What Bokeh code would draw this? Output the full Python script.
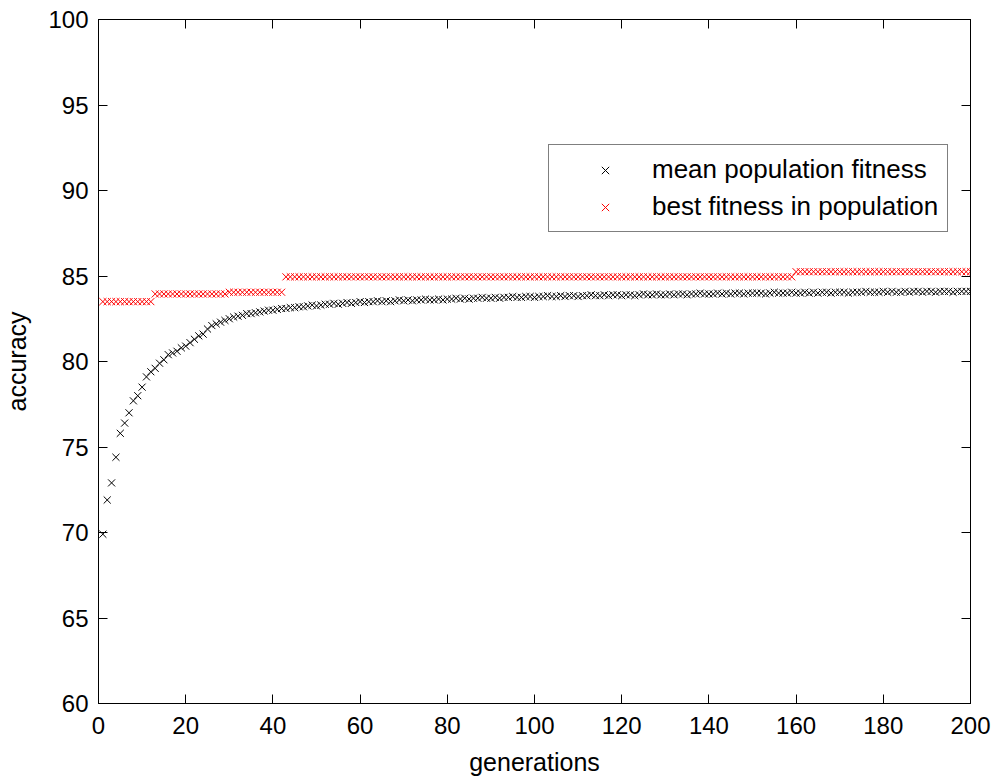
from bokeh.plotting import figure
from bokeh.models import (Range1d, LinearAxis, Legend, LegendItem, FixedTicker,
                          CustomJSTickFormatter)
from bokeh.embed import file_html
from bokeh.resources import INLINE

generations = list(range(1, 201))

mean_fitness = [
    69.9, 71.9, 72.9, 74.4, 75.8, 76.4, 77.0, 77.7, 78.0, 78.5,
    79.1, 79.4, 79.6, 79.9, 80.1, 80.4, 80.5, 80.6, 80.8, 80.9,
    81.1, 81.3, 81.5, 81.6, 81.9, 82.1, 82.2, 82.3, 82.4, 82.5,
    82.6, 82.65, 82.7, 82.8, 82.8, 82.85, 82.9, 82.95, 83.0, 83.0,
    83.05, 83.1, 83.1, 83.15, 83.15, 83.2, 83.2, 83.25, 83.3, 83.25,
    83.3, 83.35, 83.35, 83.4, 83.35, 83.4, 83.45, 83.4, 83.45, 83.5,
    83.45, 83.5, 83.5, 83.55, 83.5, 83.55, 83.5, 83.55, 83.6, 83.55,
    83.6, 83.55, 83.6, 83.6, 83.65, 83.6, 83.6, 83.65, 83.6, 83.65,
    83.65, 83.7, 83.65, 83.7, 83.65, 83.7, 83.7, 83.75, 83.7, 83.7,
    83.75, 83.7, 83.75, 83.75, 83.8, 83.75, 83.75, 83.8, 83.8, 83.75,
    83.8, 83.8, 83.85, 83.8, 83.8, 83.85, 83.8, 83.85, 83.85, 83.8,
    83.85, 83.85, 83.9, 83.85, 83.85, 83.9, 83.85, 83.9, 83.9, 83.85,
    83.9, 83.9, 83.85, 83.9, 83.95, 83.9, 83.9, 83.95, 83.9, 83.9,
    83.95, 83.9, 83.95, 83.95, 83.9, 83.95, 83.95, 84.0, 83.95, 83.95,
    83.95, 84.0, 83.95, 84.0, 83.95, 84.0, 84.0, 83.95, 84.0, 84.0,
    84.0, 84.0, 83.95, 84.0, 84.05, 84.0, 84.0, 84.0, 84.05, 84.0,
    84.0, 84.05, 84.0, 84.05, 84.0, 84.05, 84.05, 84.0, 84.05, 84.05,
    84.05, 84.0, 84.05, 84.05, 84.05, 84.1, 84.05, 84.05, 84.05, 84.1,
    84.05, 84.1, 84.05, 84.05, 84.1, 84.05, 84.1, 84.1, 84.05, 84.1,
    84.1, 84.05, 84.1, 84.1, 84.1, 84.05, 84.1, 84.1, 84.1, 84.1,
]

best_fitness = [83.5] * 12 + [83.95] * 17 + [84.05] * 13 + [84.95] * 117 + [85.25] * 41

x_ticks = [0, 20, 40, 60, 80, 100, 120, 140, 160, 180, 200]
y_ticks = [60, 65, 70, 75, 80, 85, 90, 95, 100]

FONT = "Liberation Sans"

p = figure(width=992, height=778, output_backend="svg", toolbar_location=None,
           x_range=Range1d(0, 200), y_range=Range1d(60, 100),
           min_border_left=98, min_border_right=22, min_border_top=19,
           min_border_bottom=74, background_fill_color="white",
           border_fill_color="white")
p.xgrid.visible = False
p.ygrid.visible = False
p.outline_line_color = "black"
p.outline_line_width = 1

def style_axis(ax, ticks, labels=True):
    ax.ticker = FixedTicker(ticks=ticks)
    ax.axis_line_color = "black"
    ax.axis_line_width = 1
    ax.major_tick_line_color = "black"
    ax.major_tick_in = 9
    ax.major_tick_out = 0
    ax.minor_tick_line_color = None
    ax.major_label_text_font = FONT
    ax.major_label_text_font_size = "24px"
    ax.major_label_text_color = "black"
    ax.axis_label_text_font = FONT
    ax.axis_label_text_font_size = "25px"
    ax.axis_label_text_font_style = "normal"
    ax.axis_label_text_color = "black"
    if not labels:
        ax.formatter = CustomJSTickFormatter(code="return ''")
        ax.major_label_standoff = 0

style_axis(p.xaxis[0], x_ticks)
style_axis(p.yaxis[0], y_ticks)
p.xaxis[0].axis_label = "generations"
p.yaxis[0].axis_label = "accuracy"
p.xaxis[0].major_label_standoff = 13
p.xaxis[0].axis_label_standoff = 11
p.yaxis[0].major_label_standoff = 10
p.yaxis[0].axis_label_standoff = 14

top_axis = LinearAxis()
right_axis = LinearAxis()
style_axis(top_axis, x_ticks, labels=False)
style_axis(right_axis, y_ticks, labels=False)
p.add_layout(top_axis, "above")
p.add_layout(right_axis, "right")

r_mean = p.scatter(generations, mean_fitness, marker="x", size=10,
                   line_color="black", line_width=1)
r_best = p.scatter(generations, best_fitness, marker="x", size=10,
                   line_color="red", line_width=1)

legend = Legend(items=[
    LegendItem(label="mean population fitness", renderers=[r_mean]),
    LegendItem(label="best fitness in population", renderers=[r_best]),
], location=(450, 471))
legend.label_text_font = FONT
legend.label_text_font_size = "26px"
legend.label_text_color = "black"
legend.glyph_width = 94
legend.glyph_height = 26
legend.label_height = 26
legend.label_standoff = 0
legend.padding = 9
legend.spacing = 6
legend.margin = 0
legend.border_line_color = "black"
legend.border_line_width = 1
legend.background_fill_color = "white"
legend.background_fill_alpha = 1
p.add_layout(legend)

open("out.html", "w").write(file_html(p, INLINE))
